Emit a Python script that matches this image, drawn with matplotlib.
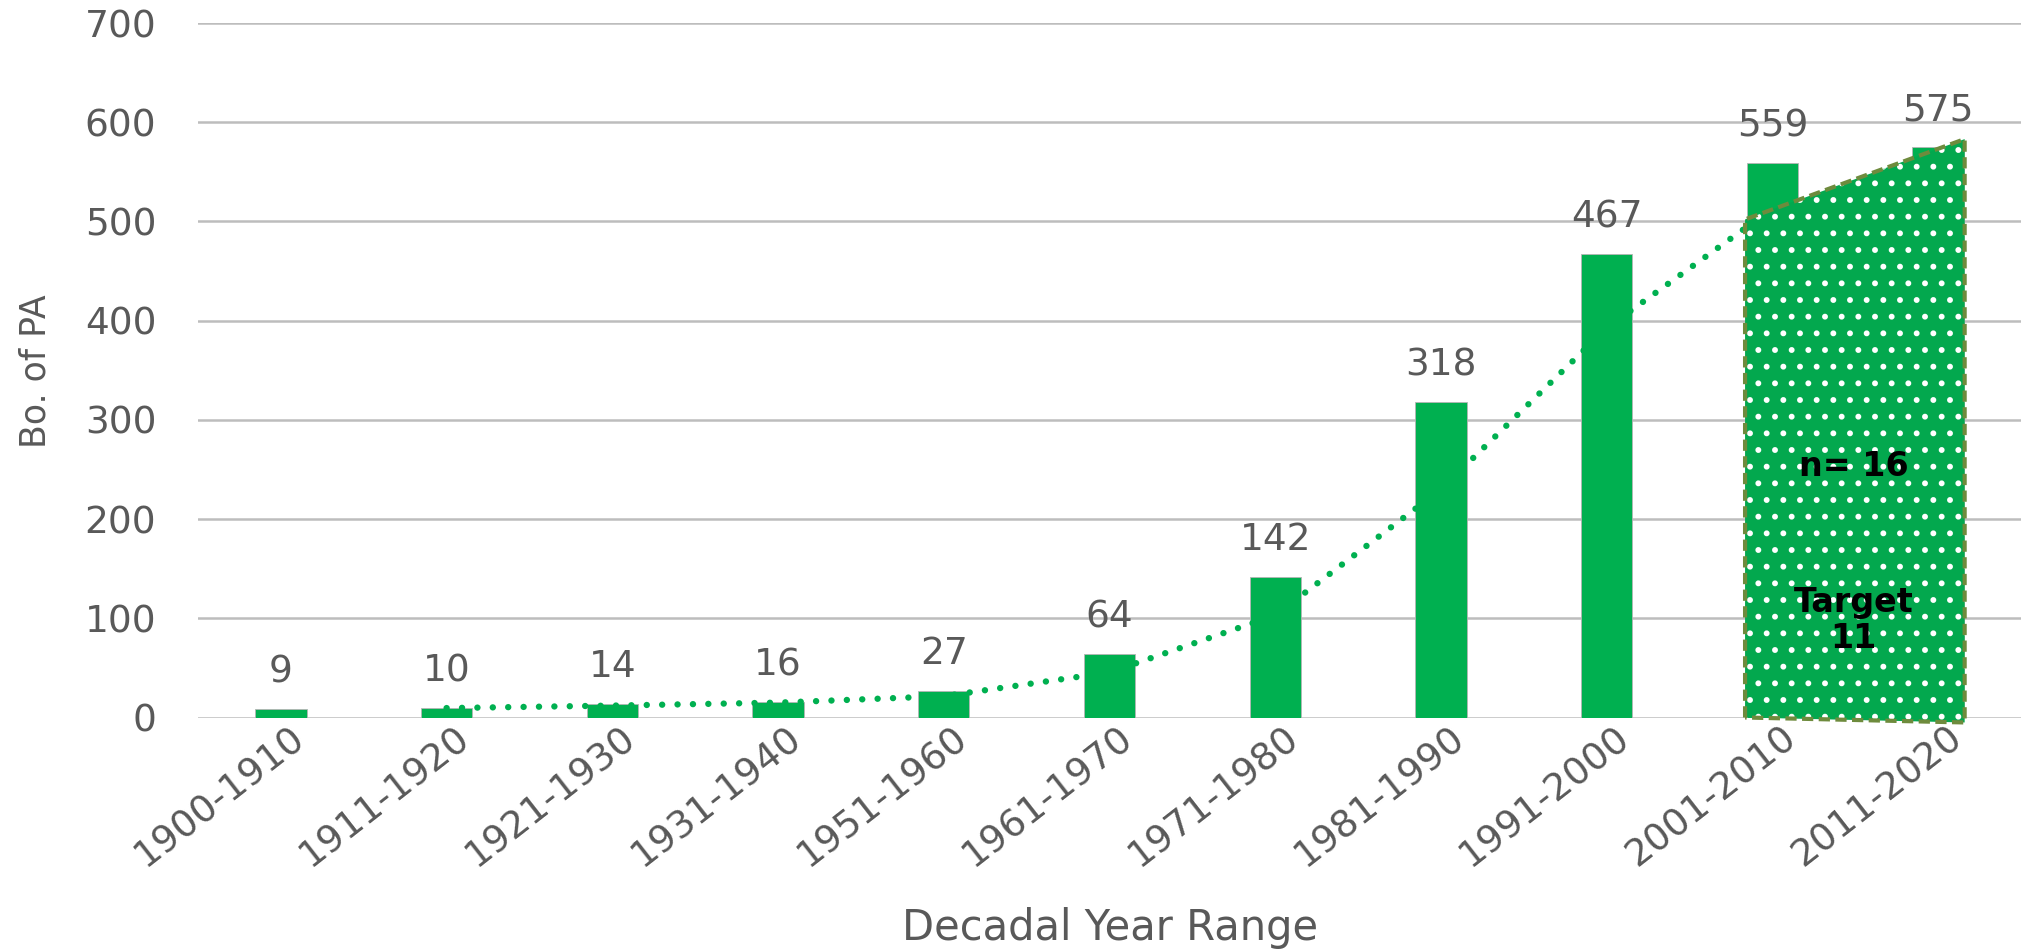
import matplotlib

matplotlib.use("Agg")
import matplotlib.pyplot as plt
from matplotlib.patches import Polygon
from matplotlib.transforms import ScaledTranslation

# --- datos ---
decades = ["1900-1910", "1911-1920", "1921-1930", "1931-1940", "1951-1960",
           "1961-1970", "1971-1980", "1981-1990", "1991-2000", "2001-2010", "2011-2020"]
counts = [9, 10, 14, 16, 27, 64, 142, 318, 467, 559, 575]
# media móvil (periodo 2), desde 1911-1920 hasta 2001-2010
trend_x = [1, 2, 3, 4, 5, 6, 7, 8, 9]
trend_y = [9.5, 12, 15, 21.5, 45.5, 103, 230, 392.5, 513]
# zona objetivo (polígono punteado)
target_x = [8.835, 8.835, 10.16, 10.16]
target_y = [0, 502, 583, -5]

GREEN = "#00B050"
GREY_TXT = "#595959"
W, H = 2023, 950

plt.rcParams["hatch.linewidth"] = 1.8

fig = plt.figure(figsize=(W / 100, H / 100), dpi=100)
ax = fig.add_axes([198 / W, 1 - 717.5 / H, 1823 / W, 694.5 / H])

xs = list(range(len(decades)))
ax.bar(xs, counts, width=0.31, color=GREEN, edgecolor="#b5b5b5", linewidth=0.6, zorder=2)

for x, v in zip(xs, counts):
    ax.annotate(str(v), (x, v), xytext=(0, 19), textcoords="offset points",
                ha="center", va="baseline", fontsize=27, color=GREY_TXT, zorder=5)

ax.plot(trend_x, trend_y, color=GREEN, lw=4.6, linestyle=(0, (0.01, 2.4)),
        dash_capstyle="round", zorder=3)

verts = list(zip(target_x, target_y))
ax.add_patch(Polygon(verts, closed=True, facecolor="#03a84e", edgecolor="none",
                     lw=0, zorder=4, clip_on=False))
ax.add_patch(Polygon(verts, closed=True, facecolor="none", edgecolor="white",
                     hatch=".", lw=0, zorder=4.1, clip_on=False))
ax.add_patch(Polygon(verts, closed=True, facecolor="none", edgecolor="#6e8b3d",
                     lw=3, linestyle=(0, (2.7, 1.3)), zorder=4.2, clip_on=False))

ax.text(9.49, 253, "n= 16", ha="center", va="center", fontsize=24,
        fontweight="bold", color="black", zorder=6)
ax.text(9.49, 98, "Target\n11", ha="center", va="center", fontsize=24,
        fontweight="bold", color="black", linespacing=1.1, zorder=6)

ax.set_xlim(-0.5, 10.5)
ax.set_ylim(0, 700)
ax.set_yticks(range(0, 701, 100))
ax.yaxis.grid(True, color="#bdbdbd", lw=1.8)
ax.set_axisbelow(True)
for s in ax.spines.values():
    s.set_visible(False)

ax.tick_params(axis="y", length=0, pad=30, labelsize=27, labelcolor=GREY_TXT)
ax.tick_params(axis="x", length=0, pad=12, labelsize=27, labelcolor=GREY_TXT)
ax.set_xticks(xs)
ax.set_xticklabels(decades, rotation=38, ha="right", va="center", rotation_mode="anchor")
shift = ScaledTranslation(14 / 72, 0, fig.dpi_scale_trans)
for lab in ax.get_xticklabels():
    lab.set_transform(lab.get_transform() + shift)

fig.text(1110 / W, 1 - 940 / H, "Decadal Year Range", ha="center", va="baseline",
         fontsize=30, color=GREY_TXT)
fig.text(36 / W, 1 - 371 / H, "Bo. of PA", ha="center", va="center", rotation=90,
         fontsize=25, color=GREY_TXT)

fig.savefig("out.png", dpi=100)
plt.close(fig)
